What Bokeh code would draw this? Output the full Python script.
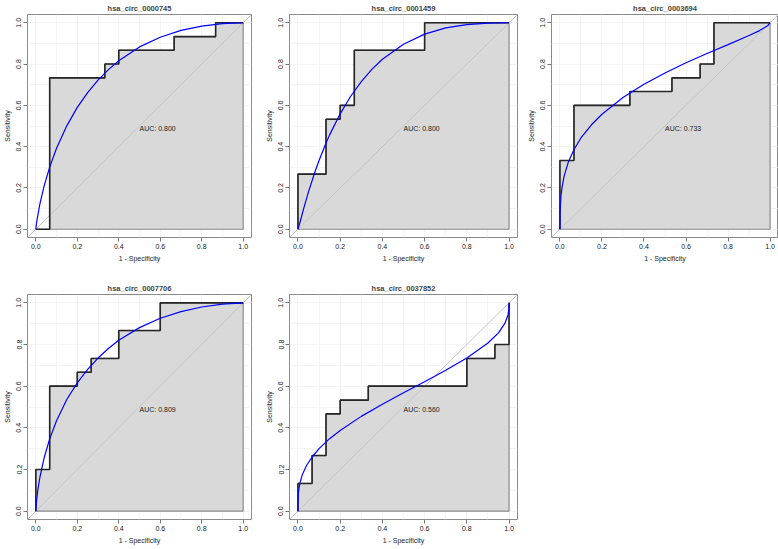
from bokeh.plotting import figure
from bokeh.layouts import gridplot
from bokeh.models import Range1d, Slope, Label, FixedTicker
from bokeh.embed import file_html
from bokeh.resources import INLINE

# ---------------- data ----------------
TITLES = ["hsa_circ_0000745", "hsa_circ_0001459", "hsa_circ_0003694",
          "hsa_circ_0007706", "hsa_circ_0037852"]
AUC_TEXT = ["AUC: 0.800", "AUC: 0.800", "AUC: 0.733", "AUC: 0.809", "AUC: 0.560"]

TICKS = [0.0, 0.2, 0.4, 0.6, 0.8, 1.0]
TICK_LABELS = ["0.0", "0.2", "0.4", "0.6", "0.8", "1.0"]
GRID = [0.0, 0.1, 0.2, 0.3, 0.4, 0.5, 0.6, 0.7, 0.8, 0.9, 1.0]

# empirical ROC points (1 - specificity, sensitivity)
FPR_1 = [0, 0.067, 0.067, 0.333, 0.333, 0.4, 0.4, 0.667, 0.667, 0.867, 0.867, 1]
TPR_1 = [0, 0, 0.733, 0.733, 0.8, 0.8, 0.867, 0.867, 0.933, 0.933, 1, 1]

FPR_2 = [0, 0, 0.133, 0.133, 0.2, 0.2, 0.267, 0.267, 0.6, 0.6, 1]
TPR_2 = [0, 0.267, 0.267, 0.533, 0.533, 0.6, 0.6, 0.867, 0.867, 1, 1]

FPR_3 = [0, 0, 0.067, 0.067, 0.333, 0.333, 0.533, 0.533, 0.667, 0.667, 0.733, 0.733, 1]
TPR_3 = [0, 0.333, 0.333, 0.6, 0.6, 0.667, 0.667, 0.733, 0.733, 0.8, 0.8, 1, 1]

FPR_4 = [0, 0, 0.067, 0.067, 0.2, 0.2, 0.267, 0.267, 0.4, 0.4, 0.6, 0.6, 1]
TPR_4 = [0, 0.2, 0.2, 0.6, 0.6, 0.667, 0.667, 0.733, 0.733, 0.867, 0.867, 1, 1]

FPR_5 = [0, 0, 0.067, 0.067, 0.133, 0.133, 0.2, 0.2, 0.333, 0.333, 0.8, 0.8, 0.933, 0.933, 1, 1]
TPR_5 = [0, 0.133, 0.133, 0.267, 0.267, 0.467, 0.467, 0.533, 0.533, 0.6, 0.6, 0.733, 0.733, 0.8, 0.8, 1]

# smoothed ROC curves
SM_X_1 = [0, 0.005, 0.02, 0.04, 0.067, 0.1, 0.15, 0.2, 0.25, 0.3, 0.35, 0.4, 0.5, 0.6, 0.7, 0.8, 0.9, 1]
SM_Y_1 = [0, 0.040, 0.124, 0.209, 0.301, 0.392, 0.502, 0.590, 0.662, 0.722, 0.773, 0.816, 0.883, 0.930, 0.963, 0.984, 0.996, 1]

SM_X_2 = [0, 0.01, 0.03, 0.05, 0.08, 0.1, 0.133, 0.15, 0.2, 0.25, 0.3, 0.35, 0.4, 0.5, 0.6, 0.7, 0.8, 0.9, 1]
SM_Y_2 = [0, 0.035, 0.111, 0.181, 0.276, 0.333, 0.418, 0.457, 0.559, 0.644, 0.715, 0.774, 0.823, 0.896, 0.945, 0.975, 0.991, 0.998, 1]

SM_X_3 = [0, 0.001, 0.005, 0.01, 0.02, 0.04, 0.067, 0.1, 0.15, 0.2, 0.3, 0.4, 0.5, 0.6, 0.7, 0.8, 0.9, 0.95, 0.99, 1]
SM_Y_3 = [0, 0.091, 0.159, 0.202, 0.257, 0.325, 0.386, 0.442, 0.506, 0.557, 0.638, 0.702, 0.757, 0.806, 0.851, 0.894, 0.938, 0.962, 0.987, 1]

SM_X_4 = [0, 0.002, 0.01, 0.02, 0.04, 0.067, 0.1, 0.15, 0.2, 0.25, 0.3, 0.35, 0.4, 0.5, 0.6, 0.7, 0.8, 0.9, 1]
SM_Y_4 = [0, 0.033, 0.103, 0.164, 0.255, 0.347, 0.434, 0.537, 0.616, 0.681, 0.735, 0.781, 0.820, 0.881, 0.926, 0.958, 0.980, 0.994, 1]

SM_X_5 = [0, 0.0005, 0.002, 0.005, 0.01, 0.02, 0.04, 0.067, 0.1, 0.15, 0.2, 0.3, 0.4, 0.5, 0.6, 0.7, 0.8, 0.9, 0.95, 0.98, 0.995, 0.999, 1]
SM_Y_5 = [0, 0.053, 0.082, 0.110, 0.137, 0.173, 0.218, 0.260, 0.300, 0.348, 0.387, 0.455, 0.513, 0.568, 0.621, 0.676, 0.735, 0.807, 0.856, 0.901, 0.942, 0.968, 1]

STEPS = [(FPR_1, TPR_1), (FPR_2, TPR_2), (FPR_3, TPR_3), (FPR_4, TPR_4), (FPR_5, TPR_5)]
SMOOTH = [(SM_X_1, SM_Y_1), (SM_X_2, SM_Y_2), (SM_X_3, SM_Y_3), (SM_X_4, SM_Y_4), (SM_X_5, SM_Y_5)]

FONT = "Liberation Sans"


def make_panel(i, width, height, left, right, top, bottom):
    p = figure(width=width, height=height, output_backend="svg", toolbar_location=None,
               x_range=Range1d(-0.04, 1.04), y_range=Range1d(-0.04, 1.04),
               min_border_left=left, min_border_right=right,
               min_border_top=top, min_border_bottom=bottom,
               x_axis_label="1 - Specificity", y_axis_label="Sensitivity")
    p.title.text = TITLES[i]
    p.title.align = "center"
    p.title.text_font = FONT
    p.title.text_font_size = "7.5px"
    p.title.text_font_style = "bold"
    p.title.standoff = 3
    p.title.offset = 0
    p.outline_line_color = "#8a8a8a"
    p.outline_line_width = 1
    p.background_fill_color = "white"
    p.border_fill_color = "white"

    for ax in (p.xaxis[0], p.yaxis[0]):
        ax.ticker = FixedTicker(ticks=TICKS)
        ax.major_label_overrides = {t: s for t, s in zip(TICKS, TICK_LABELS)}
        ax.axis_line_color = None
        ax.major_tick_out = 4
        ax.major_tick_in = 0
        ax.minor_tick_line_color = None
        ax.major_tick_line_color = "#777777"
        ax.major_label_text_font = FONT
        ax.major_label_text_font_size = "7px"
        ax.major_label_text_color = "#222222"
        ax.major_label_standoff = 2
        ax.axis_label_text_font = FONT
        ax.axis_label_text_font_size = "7px"
        ax.axis_label_text_font_style = "normal"
        ax.axis_label_text_color = "#222222"
        ax.axis_label_standoff = 3
    p.yaxis[0].major_label_orientation = "vertical"

    for g in (p.xgrid[0], p.ygrid[0]):
        g.ticker = FixedTicker(ticks=GRID)
        g.grid_line_color = "#f4f4f4"
        g.grid_line_width = 1
        g.level = "image"

    fx, fy = STEPS[i]
    sx, sy = SMOOTH[i]
    poly = p.patch(list(fx) + [fx[-1]], list(fy) + [0], fill_color="#d9d9d9",
                   line_color="#8c8c8c", line_width=1.2)
    poly.level = "underlay"

    diag = Slope(gradient=1, y_intercept=0, line_color="#c4c4c4", line_width=1, level="glyph")
    p.add_layout(diag)

    st = p.line(fx, fy, line_color="#262626", line_width=1.6)
    st.level = "annotation"
    sm = p.line(sx, sy, line_color="#0000ff", line_width=1.2)
    sm.level = "annotation"

    lab = Label(x=0.5, y=0.5, text=AUC_TEXT[i], text_font=FONT, text_font_size="7px",
                text_color="#222222", text_baseline="middle", text_align="left", y_offset=-2)
    p.add_layout(lab)
    return p


# column widths 262 / 259 / 257 ; row heights 270 / 279
p1 = make_panel(0, 262, 270, 27, 11, 13, 33)
p2 = make_panel(1, 259, 270, 27, 4, 13, 33)
p3 = make_panel(2, 257, 270, 30, 0, 13, 33)
p4 = make_panel(3, 262, 279, 27, 11, 24, 30)
p5 = make_panel(4, 259, 279, 27, 4, 24, 30)

grid = gridplot([[p1, p2, p3], [p4, p5, None]], toolbar_location=None)

open("out.html", "w").write(file_html(grid, INLINE))
